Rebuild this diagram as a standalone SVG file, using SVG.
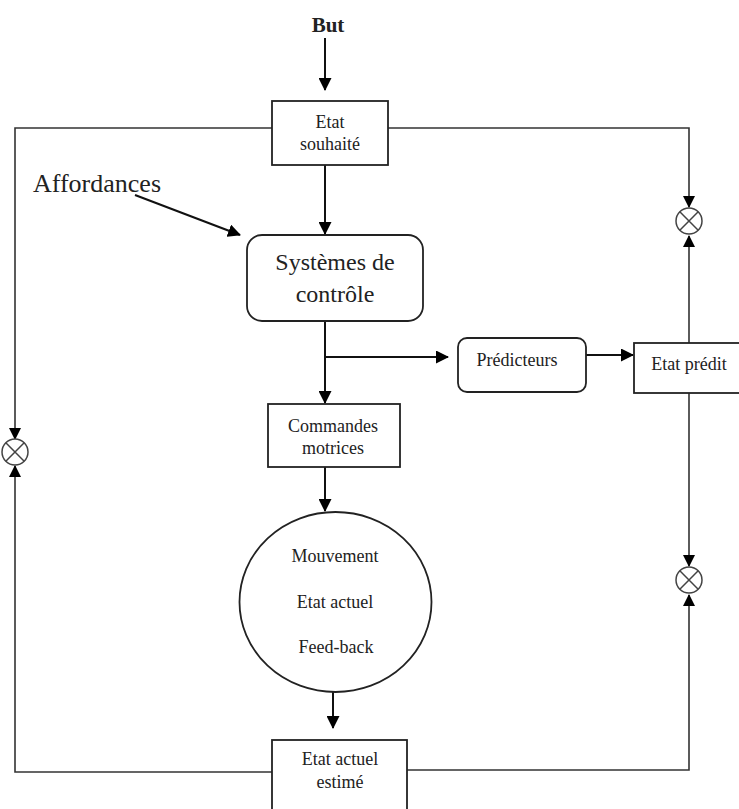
<svg xmlns="http://www.w3.org/2000/svg" width="739" height="809" viewBox="0 0 739 809">
<style>
  .box { fill: #fff; stroke: #222; stroke-width: 1.8; }
  .t { font-family: "Liberation Serif", "Times New Roman", serif; font-size: 18px; fill: #222; text-anchor: middle; }
  .big { font-size: 24px; }
  .main { stroke: #111; stroke-width: 2; fill: none; }
  .loop { stroke: #333; stroke-width: 1.6; fill: none; }
  .mult { fill: #fff; stroke: #444; stroke-width: 1.5; }
</style>
<defs>
  <marker id="ah" markerUnits="userSpaceOnUse" markerWidth="13" markerHeight="13" viewBox="0 0 13 13" refX="12" refY="6.5" orient="auto">
    <path d="M0,0 L13,6.5 L0,13 z" fill="#000"/>
  </marker>
  <marker id="ahs" markerUnits="userSpaceOnUse" markerWidth="12" markerHeight="12" viewBox="0 0 12 12" refX="11" refY="6" orient="auto">
    <path d="M0,0 L12,6 L0,12 z" fill="#000"/>
  </marker>
  <g id="otimes">
    <circle cx="0" cy="0" r="13" class="mult"/>
    <path d="M-9.2,-9.2 L9.2,9.2 M-9.2,9.2 L9.2,-9.2" stroke="#444" stroke-width="1.5"/>
  </g>
</defs>

<g id="connectors">
  <line class="main" x1="325" y1="38" x2="325" y2="90" marker-end="url(#ah)"/>
  <line class="main" x1="325" y1="165" x2="325" y2="234" marker-end="url(#ah)"/>
  <line class="main" x1="135" y1="195" x2="240" y2="235" marker-end="url(#ah)"/>
  <line class="main" x1="325" y1="321" x2="325" y2="403" marker-end="url(#ah)"/>
  <line class="main" x1="325" y1="357" x2="448" y2="357" marker-end="url(#ah)"/>
  <line class="main" x1="586" y1="355" x2="633" y2="355" marker-end="url(#ah)"/>
  <line class="main" x1="325" y1="467" x2="325" y2="511" marker-end="url(#ah)"/>
  <line class="main" x1="333" y1="692" x2="333" y2="728" marker-end="url(#ah)"/>
  <line class="loop" x1="689" y1="343" x2="689" y2="236" marker-end="url(#ahs)"/>
  <line class="loop" x1="689" y1="393" x2="689" y2="566" marker-end="url(#ahs)"/>
  <path class="loop" d="M388,128 H689 V207" marker-end="url(#ahs)"/>
  <path class="loop" d="M272,128 H15 V439" marker-end="url(#ahs)"/>
  <path class="loop" d="M407,770 H689 V595" marker-end="url(#ahs)"/>
  <path class="loop" d="M272,772 H15 V466" marker-end="url(#ahs)"/>
</g>

<g id="but"><text class="t" x="328" y="32" style="font-weight:bold;font-size:21px">But</text></g>

<g id="etat-souhaite">
  <rect class="box" x="272" y="101" width="116" height="64"/>
  <text class="t" x="330" y="128">Etat</text>
  <text class="t" x="330" y="150">souhaité</text>
</g>

<g id="affordances"><text class="t" x="33" y="192" style="font-size:26px;text-anchor:start">Affordances</text></g>

<g id="systemes">
  <rect class="box" x="247" y="235" width="176" height="86" rx="15"/>
  <text class="t big" x="335" y="270">Systèmes de</text>
  <text class="t big" x="335" y="302">contrôle</text>
</g>

<g id="predicteurs">
  <rect class="box" x="458" y="338" width="128" height="54" rx="9"/>
  <text class="t" x="517" y="366">Prédicteurs</text>
</g>

<g id="etat-predit">
  <rect class="box" x="634" y="343" width="112" height="50"/>
  <text class="t" x="689" y="370">Etat prédit</text>
</g>

<g id="commandes">
  <rect class="box" x="268" y="404" width="132" height="63"/>
  <text class="t" x="333" y="432">Commandes</text>
  <text class="t" x="333" y="454">motrices</text>
</g>

<g id="mouvement">
  <ellipse class="box" cx="335.5" cy="602" rx="96" ry="90"/>
  <text class="t" x="335" y="562">Mouvement</text>
  <text class="t" x="335" y="608">Etat actuel</text>
  <text class="t" x="336" y="653">Feed-back</text>
</g>

<g id="etat-estime">
  <rect class="box" x="272" y="740" width="135" height="80"/>
  <text class="t" x="340" y="765">Etat actuel</text>
  <text class="t" x="340" y="788">estimé</text>
</g>

<g id="mult-top"><use href="#otimes" x="689" y="221"/></g>
<g id="mult-left"><use href="#otimes" x="15" y="452"/></g>
<g id="mult-bottom"><use href="#otimes" x="689" y="580"/></g>
</svg>
